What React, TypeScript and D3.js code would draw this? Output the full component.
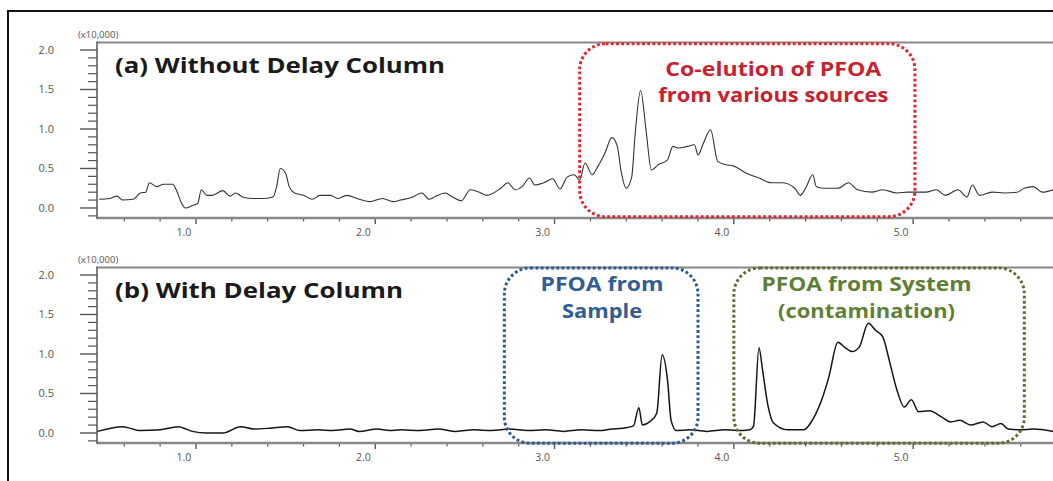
import React from "react";
import * as d3 from "d3";

// ---- Data (retention time in min, intensity in x10,000) ----
const timesA = [0.46,0.52,0.56,0.59,0.65,0.69,0.72,0.74,0.78,0.82,0.87,0.89,0.92,0.94,0.98,1.01,1.03,1.06,1.09,1.15,1.19,1.22,1.26,1.32,1.37,1.43,1.45,1.47,1.50,1.52,1.55,1.60,1.65,1.69,1.75,1.79,1.84,1.91,1.97,2.04,2.10,2.14,2.21,2.26,2.30,2.33,2.39,2.43,2.48,2.53,2.58,2.62,2.70,2.74,2.78,2.82,2.86,2.89,2.94,2.99,3.03,3.07,3.11,3.14,3.17,3.21,3.24,3.28,3.32,3.35,3.37,3.40,3.43,3.45,3.48,3.51,3.54,3.58,3.63,3.66,3.69,3.74,3.78,3.80,3.83,3.87,3.91,3.95,4.00,4.07,4.14,4.21,4.27,4.34,4.37,4.40,4.44,4.46,4.51,4.58,4.64,4.69,4.77,4.83,4.91,4.97,5.07,5.13,5.18,5.25,5.30,5.33,5.37,5.44,5.51,5.58,5.62,5.67,5.72,5.78];
const valuesA = [0.11,0.12,0.15,0.10,0.11,0.19,0.20,0.32,0.27,0.30,0.30,0.23,0.06,0.00,0.03,0.06,0.23,0.16,0.16,0.22,0.15,0.19,0.14,0.12,0.12,0.14,0.27,0.50,0.44,0.27,0.19,0.16,0.11,0.16,0.16,0.12,0.16,0.11,0.08,0.12,0.08,0.10,0.14,0.19,0.11,0.14,0.19,0.14,0.09,0.23,0.20,0.16,0.25,0.32,0.23,0.27,0.38,0.29,0.32,0.37,0.24,0.39,0.42,0.35,0.57,0.42,0.52,0.69,0.89,0.78,0.48,0.25,0.39,0.95,1.49,0.99,0.48,0.55,0.61,0.78,0.76,0.78,0.80,0.67,0.82,0.99,0.59,0.55,0.53,0.44,0.38,0.32,0.32,0.25,0.16,0.25,0.42,0.27,0.25,0.25,0.32,0.23,0.20,0.23,0.19,0.20,0.20,0.23,0.16,0.23,0.14,0.29,0.16,0.20,0.19,0.20,0.25,0.27,0.20,0.23];

const timesB = [0.45,0.59,0.69,0.80,0.90,0.98,1.06,1.15,1.25,1.32,1.41,1.51,1.58,1.68,1.76,1.86,1.91,2.01,2.08,2.14,2.25,2.35,2.45,2.55,2.65,2.75,2.85,2.95,3.05,3.15,3.25,3.32,3.38,3.44,3.47,3.49,3.53,3.57,3.60,3.63,3.65,3.68,3.75,3.85,3.95,4.05,4.09,4.11,4.14,4.16,4.19,4.22,4.30,4.39,4.44,4.49,4.53,4.58,4.62,4.66,4.70,4.75,4.79,4.83,4.87,4.91,4.95,4.99,5.03,5.09,5.16,5.21,5.26,5.32,5.39,5.44,5.49,5.53,5.60,5.67,5.78];
const valuesB = [0.02,0.08,0.03,0.04,0.08,0.02,0.00,0.00,0.08,0.05,0.06,0.08,0.03,0.04,0.03,0.05,0.02,0.05,0.03,0.04,0.03,0.05,0.02,0.04,0.03,0.05,0.03,0.04,0.02,0.04,0.03,0.05,0.06,0.09,0.32,0.10,0.14,0.25,0.99,0.67,0.16,0.03,0.04,0.02,0.04,0.03,0.04,0.09,1.08,0.80,0.35,0.13,0.04,0.04,0.17,0.42,0.71,1.15,1.08,1.03,1.09,1.39,1.30,1.22,0.89,0.54,0.33,0.42,0.27,0.28,0.20,0.14,0.16,0.10,0.14,0.08,0.12,0.05,0.04,0.05,0.02];

const yMajorTicks = [0.0, 0.5, 1.0, 1.5, 2.0];
const xMajorTicks = [1.0, 2.0, 3.0, 4.0, 5.0];
const titles = ["(a) Without Delay Column", "(b) With Delay Column"];
const yUnitLabel = "(x10,000)";

// annotation boxes: [t0, t1, v0, v1]
const redBox = [3.14, 5.01, -0.11, 2.08];
const blueBox = [2.72, 3.80, -0.13, 2.09];
const greenBox = [4.00, 5.62, -0.13, 2.09];
const redLines = ["Co-elution of PFOA", "from various sources"];
const blueLines = ["PFOA from", "Sample"];
const greenLines = ["PFOA from System", "(contamination)"];

const W = 1053, H = 481;
const xScale = d3.scaleLinear().domain([0.448, 5.78]).range([97, 1053]);
const OFFSET_B = 225;
const yA = d3.scaleLinear().domain([-0.127, 2.095]).range([218, 42.5]);
const yB = d3.scaleLinear().domain([-0.127, 2.095]).range([218 + OFFSET_B, 42.5 + OFFSET_B]);

const FONT = "'Open Sans', 'Noto Sans', sans-serif";

function Panel({ y, times, values, title, titleLen, lineW, lineColor }: any) {
  const line = d3.line<number>().x((_, i) => xScale(times[i])).y((v) => y(v)).curve(d3.curveMonotoneX);
  const top = y.range()[1];
  const bottom = y.range()[0];
  const left = xScale.range()[0];
  const right = xScale.range()[1];
  const minorY = d3.range(-1, 21).map((k) => k / 10).filter((v) => Math.abs(v * 2 - Math.round(v * 2)) > 1e-6);
  const minorX = d3.range(3, 29).map((k) => k / 5).filter((v) => Math.abs(v - Math.round(v)) > 1e-6);
  return (
    <g>
      {minorY.map((v) => (
        <line key={"my" + v} x1={left - 9} x2={left} y1={y(v)} y2={y(v)} stroke="#555" strokeWidth={1.2} />
      ))}
      {yMajorTicks.map((v) => (
        <g key={"My" + v}>
          <line x1={left - 17} x2={left} y1={y(v)} y2={y(v)} stroke="#555" strokeWidth={1.4} />
          <text x={54} y={y(v)} dy="0.35em" textAnchor="end" fontFamily={FONT} fontSize={11} fill="#555">{v.toFixed(1)}</text>
        </g>
      ))}
      {minorX.map((v) => (
        <line key={"mx" + v} x1={xScale(v)} x2={xScale(v)} y1={bottom} y2={bottom + 3.5} stroke="#555" strokeWidth={1.2} />
      ))}
      {xMajorTicks.map((v) => (
        <g key={"Mx" + v}>
          <line x1={xScale(v)} x2={xScale(v)} y1={bottom} y2={bottom + 6} stroke="#555" strokeWidth={1.4} />
          <text x={xScale(v) - 12} y={bottom + 14} dy="0.35em" textAnchor="middle" fontFamily={FONT} fontSize={10.5} fill="#555">{v.toFixed(1)}</text>
        </g>
      ))}
      <line x1={left} x2={right} y1={top} y2={top} stroke="#888" strokeWidth={2.2} />
      <line x1={left} x2={right} y1={bottom} y2={bottom} stroke="#888" strokeWidth={2.6} />
      <line x1={left} x2={left} y1={top - 1} y2={bottom + 1} stroke="#555" strokeWidth={1.5} />
      <text x={78} y={top - 5} fontFamily={FONT} fontSize={9.5} fill="#555">{yUnitLabel}</text>
      <text x={115} y={top + 23} dy="0.35em" fontFamily={FONT} fontWeight={700} fontSize={20.5} fill="#1a1a1a" textLength={titleLen} lengthAdjust="spacingAndGlyphs">{title}</text>
      <path d={line(values) || ""} fill="none" stroke={lineColor} strokeWidth={lineW} strokeLinejoin="round" />
    </g>
  );
}

function Box({ box, y, color, r }: any) {
  const x0 = xScale(box[0]), x1 = xScale(box[1]);
  const yt = y(box[3]), yb = y(box[2]);
  return (
    <rect x={x0} y={yt} width={x1 - x0} height={yb - yt} rx={r} ry={r} fill="none" stroke={color} strokeWidth={3} strokeDasharray="2.8 2.4" />
  );
}

function Label({ lines, cx, ys, color, lens }: any) {
  return (
    <g>
      {lines.map((s: string, i: number) => (
        <text key={i} x={cx} y={ys[i]} dy="0.35em" textAnchor="middle" fontFamily={FONT} fontWeight={700} fontSize={19} fill={color} textLength={lens[i]} lengthAdjust="spacingAndGlyphs">{s}</text>
      ))}
    </g>
  );
}

export default function App() {
  return (
    <svg width={W} height={H} style={{ position: "absolute", left: 0, top: 0, background: "#fff" }}>
      <rect x={0} y={0} width={W} height={H} fill="#fff" />
      <rect x={8} y={11} width={1200} height={600} fill="none" stroke="#111" strokeWidth={2} />
      <Panel y={yA} times={timesA} values={valuesA} title={titles[0]} titleLen={330} lineW={1.1} lineColor="#333" />
      <Panel y={yB} times={timesB} values={valuesB} title={titles[1]} titleLen={288} lineW={1.5} lineColor="#151515" />
      <Box box={redBox} y={yA} color="#e3262e" r={26} />
      <Box box={blueBox} y={yB} color="#2d5a94" r={26} />
      <Box box={greenBox} y={yB} color="#5c6f34" r={26} />
      <Label lines={redLines} cx={xScale(4.22)} ys={[yA(1.75), yA(1.43)]} color="#c82130" lens={[216, 230]} />
      <Label lines={blueLines} cx={xScale(3.265)} ys={[yB(1.88), yB(1.54)]} color="#305d92" lens={[123, 80]} />
      <Label lines={greenLines} cx={xScale(4.74)} ys={[yB(1.88), yB(1.54)]} color="#5f7f36" lens={[210, 177]} />
    </svg>
  );
}
